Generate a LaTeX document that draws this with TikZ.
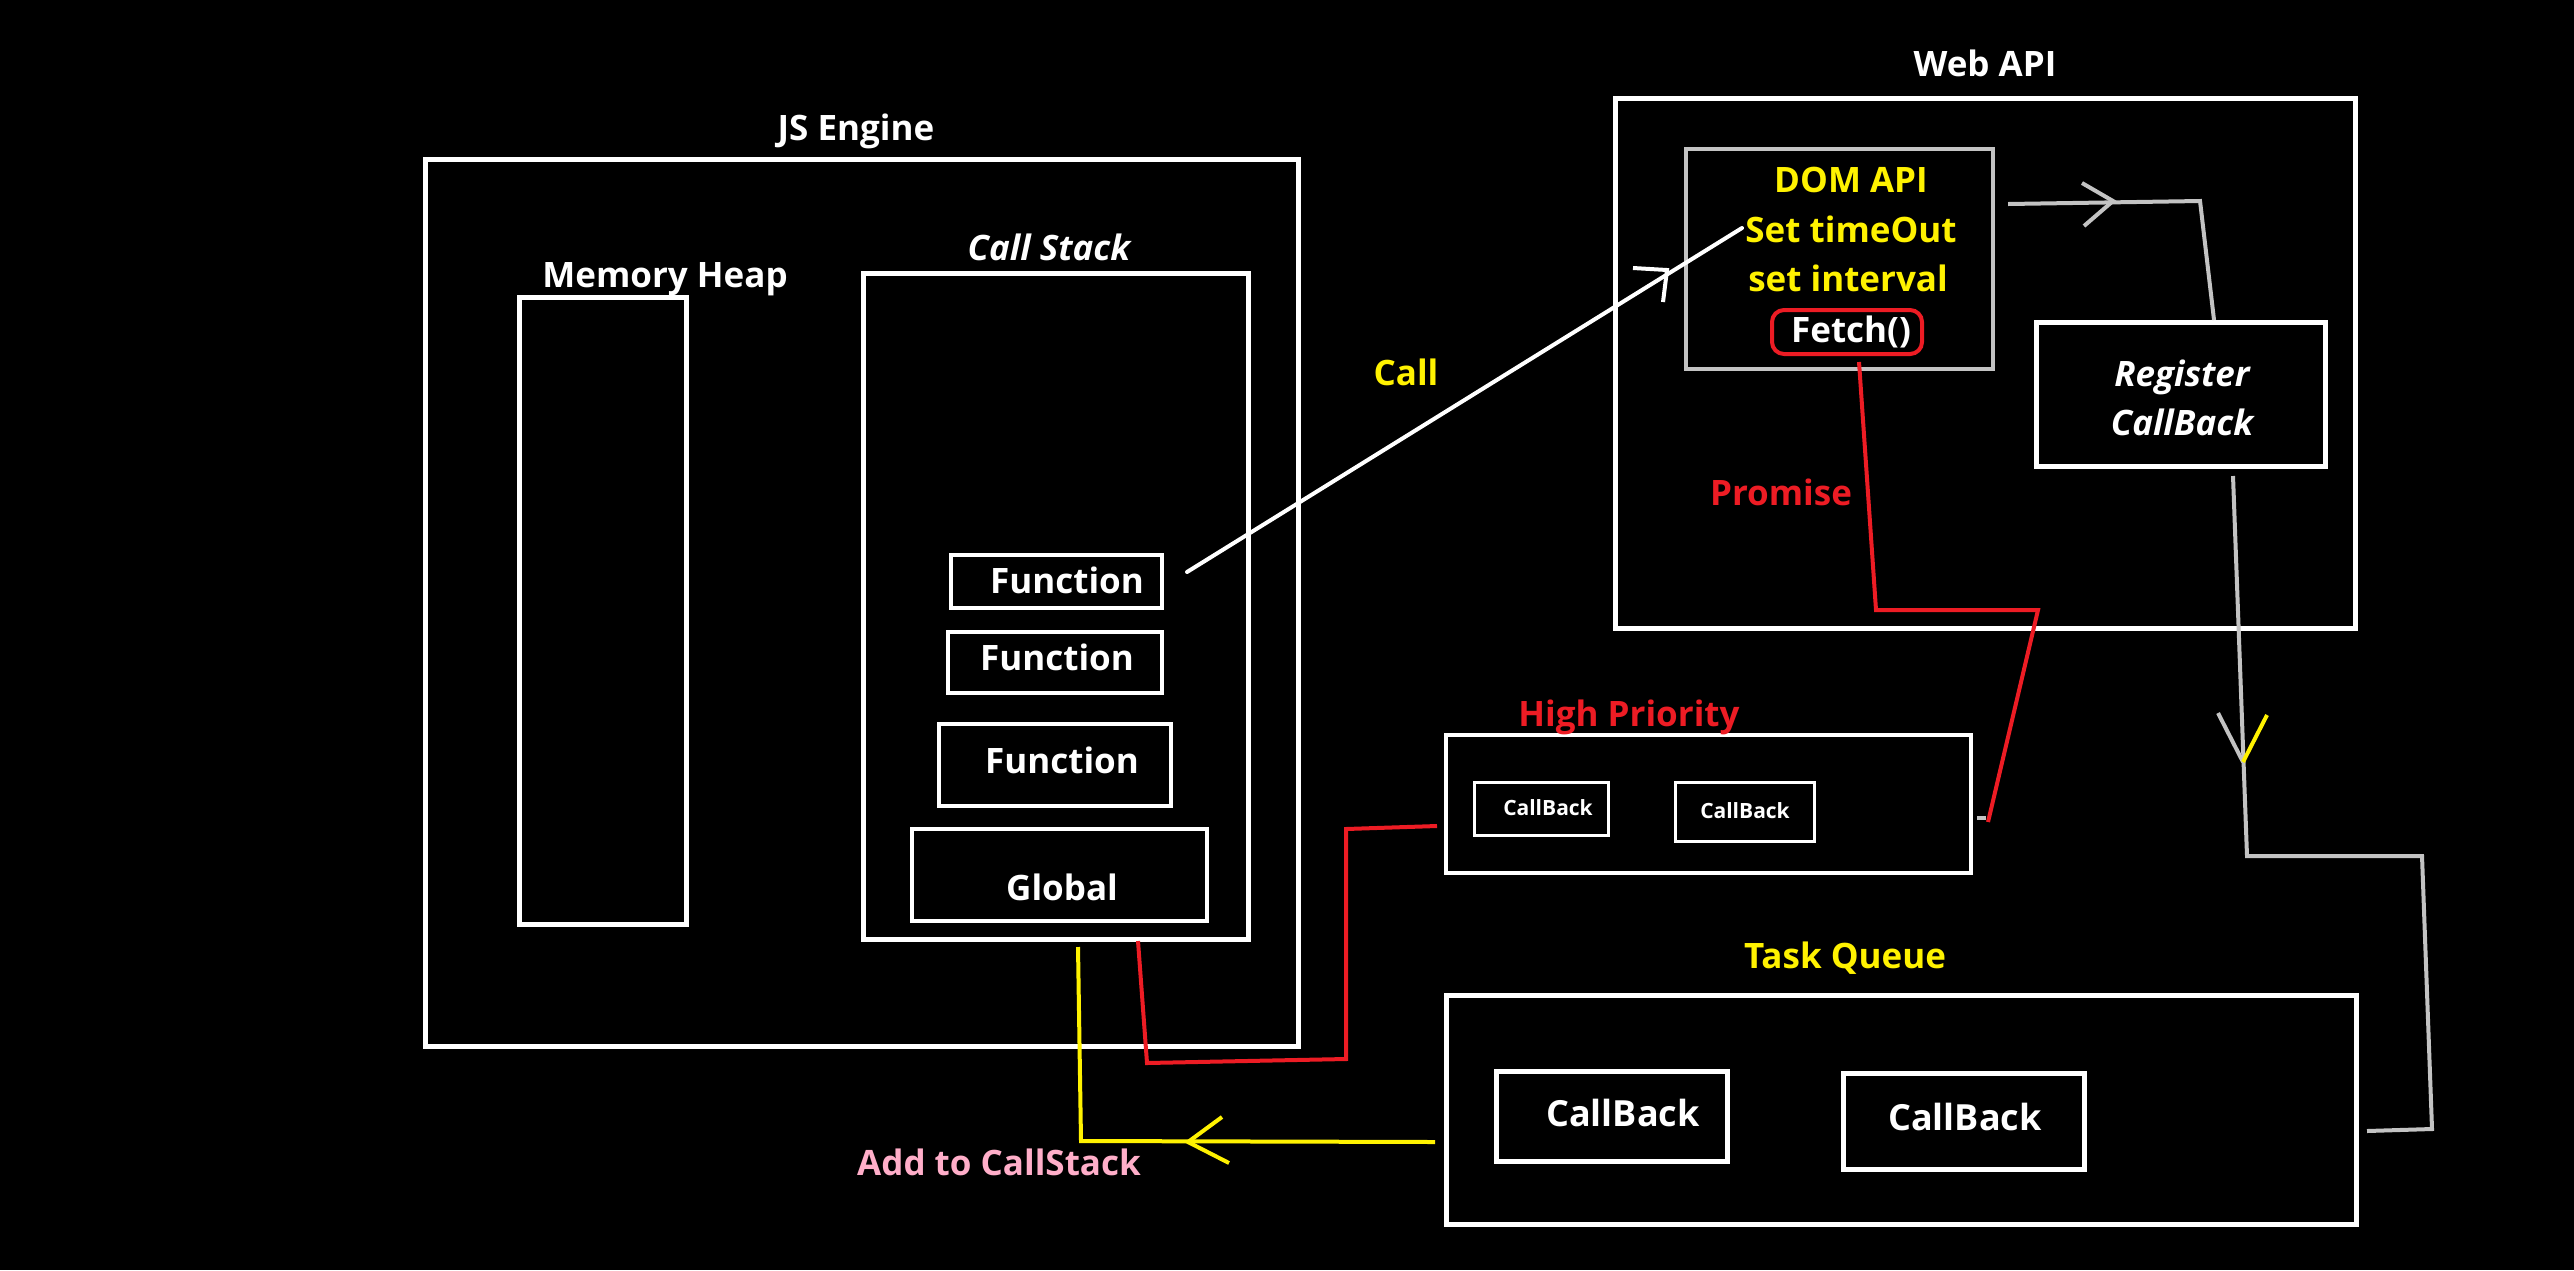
\documentclass[tikz,border=0pt]{standalone}
\usepackage{fontspec}
\setmainfont{Open Sans}
\definecolor{pyel}{HTML}{FFF200}
\definecolor{pred}{HTML}{ED1C24}
\definecolor{pgray}{HTML}{C3C3C3}
\definecolor{ppink}{HTML}{FFAEC9}
\begin{document}
\begin{tikzpicture}[x=1pt,y=-1pt,
  wbox/.style={draw=white, line width=5pt, inner sep=0pt, outer sep=0pt},
  sbox/.style={draw=white, line width=4pt, inner sep=0pt, outer sep=0pt},
  gbox/.style={draw=pgray, line width=4pt, inner sep=0pt, outer sep=0pt},
  lbl/.style={font=\fontsize{35}{42}\selectfont\bfseries, text=white, anchor=base, inner sep=0pt},
  ilbl/.style={lbl, font=\fontsize{35}{42}\selectfont\bfseries\itshape},
  slbl/.style={lbl, font=\fontsize{21}{25}\selectfont\bfseries},
  blbl/.style={lbl, font=\fontsize{36}{43}\selectfont\bfseries},
  conn/.style={line width=4pt},
]
\fill[black] (0,0) rectangle (2574,1270);
\useasboundingbox (0,0) rectangle (2574,1270);

% JS Engine
\node[wbox, minimum width=873pt, minimum height=887pt] (jse) at (861.5,602.5) {};
\node[lbl] (jset) at (856,140) {JS Engine};
\node[wbox, minimum width=167pt, minimum height=627pt] (heap) at (602.5,610.5) {};
\node[lbl] (heapt) at (665,287) {Memory Heap};
\node[wbox, minimum width=385pt, minimum height=666pt] (cs) at (1055.5,606) {};
\node[ilbl] (cst) at (1049,260) {Call Stack};
\node[sbox, minimum width=211pt, minimum height=53pt] (f1) at (1056.5,581.5) {};
\node[lbl] (f1t) at (1067,593) {Function};
\node[sbox, minimum width=214pt, minimum height=61pt] (f2) at (1055,662.5) {};
\node[lbl] (f2t) at (1057,670) {Function};
\node[sbox, minimum width=232pt, minimum height=82pt] (f3) at (1055,765) {};
\node[lbl] (f3t) at (1062,773) {Function};
\node[sbox, minimum width=295pt, minimum height=92pt] (glob) at (1059.5,875) {};
\node[lbl] (globt) at (1062,900) {Global};

% Web API
\node[wbox, minimum width=740pt, minimum height=530pt] (web) at (1985,363) {};
\node[lbl] (webt) at (1985,76) {Web API};
\node[gbox, minimum width=307pt, minimum height=220pt] (dom) at (1839.5,259) {};
\node[lbl, text=pyel] (domt1) at (1851,192) {DOM API};
\node[lbl, text=pyel] (domt2) at (1851,242) {Set timeOut};
\node[lbl, text=pyel] (domt3) at (1848,291) {set interval};
\node[draw=pred, line width=4pt, rounded corners=12pt, minimum width=150pt, minimum height=44pt, inner sep=0pt] (fetch) at (1847,332) {};
\node[lbl] (fetcht) at (1851,342) {Fetch()};
\node[wbox, minimum width=289pt, minimum height=144pt] (reg) at (2180.5,394) {};
\node[ilbl] (regt1) at (2182,386) {Register};
\node[ilbl] (regt2) at (2182,435) {CallBack};

% High priority
\node[sbox, minimum width=525pt, minimum height=138pt] (hp) at (1708.5,804) {};
\node[lbl, text=pred] (hpt) at (1629,726) {High Priority};
\node[sbox, line width=3pt, minimum width=134pt, minimum height=53pt] (hcb1) at (1541,808.5) {};
\node[slbl] (hcb1t) at (1548,815) {CallBack};
\node[sbox, line width=3pt, minimum width=139pt, minimum height=59pt] (hcb2) at (1744.5,811.5) {};
\node[slbl] (hcb2t) at (1745,818) {CallBack};

% Task queue
\node[wbox, minimum width=910pt, minimum height=229pt] (tq) at (1901,1109.5) {};
\node[lbl, text=pyel] (tqt) at (1845,968) {Task Queue};
\node[wbox, minimum width=231pt, minimum height=90pt] (tcb1) at (1611.5,1116) {};
\node[blbl] (tcb1t) at (1623,1126) {CallBack};
\node[wbox, minimum width=241pt, minimum height=96pt] (tcb2) at (1963.5,1121) {};
\node[blbl] (tcb2t) at (1965,1130) {CallBack};

% labels on connectors
\node[lbl, text=pyel] (callt) at (1406,385) {Call};
\node[lbl, text=pred] (promt) at (1781,505) {Promise};
\node[lbl, text=ppink] (addt) at (999,1175) {Add to CallStack};

% Call connector
\coordinate (callS) at (1187,572);
\coordinate (callE) at (1742,228);
\draw[conn, white, line cap=round] (callS) -- (callE);
\draw[conn, white] (1633,268) -- (1667,270) -- (1663,302);

% gray: DOM -> Register
\coordinate (g1) at (2008,204);
\coordinate (g2) at (2200,201);
\coordinate (g3) at (2214,320);
\draw[conn, pgray] (g1) -- (g2) -- (g3);
\draw[conn, pgray] (2082,183) -- (2113,201) -- (2084,226);

% gray: Register -> Task queue
\coordinate (h1) at (2233,476);
\coordinate (h2) at (2247,856);
\coordinate (h3) at (2422,856);
\coordinate (h4) at (2432,1129);
\coordinate (h5) at (2367,1131);
\draw[conn, pgray] (h1) -- (h2) -- (h3) -- (h4) -- (h5);
\draw[conn, pgray] (2218,713) -- (2243,762);
\draw[conn, pyel] (2267,715) -- (2243,762);

% red: Fetch promise -> High priority
\coordinate (p1) at (1859,362);
\coordinate (p2) at (1876,610);
\coordinate (p3) at (2038,610);
\coordinate (p4) at (1988,822);
\draw[conn, pred] (p1) -- (p2) -- (p3) -- (p4);
\draw[conn, pgray] (1977,818) -- (1986,818);

% red: High priority -> Global
\coordinate (r1) at (1138,941);
\coordinate (r2) at (1147,1063);
\coordinate (r3) at (1346,1059);
\coordinate (r4) at (1346,829);
\coordinate (r5) at (1437,826);
\draw[conn, pred] (r1) -- (r2) -- (r3) -- (r4) -- (r5);

% yellow: Task queue -> Call stack
\coordinate (y1) at (1078,947);
\coordinate (y2) at (1081,1141);
\coordinate (y3) at (1435,1142);
\draw[conn, pyel] (y1) -- (y2) -- (y3);
\draw[conn, pyel] (1222,1117) -- (1188,1142) -- (1229,1163);
\end{tikzpicture}
\end{document}
